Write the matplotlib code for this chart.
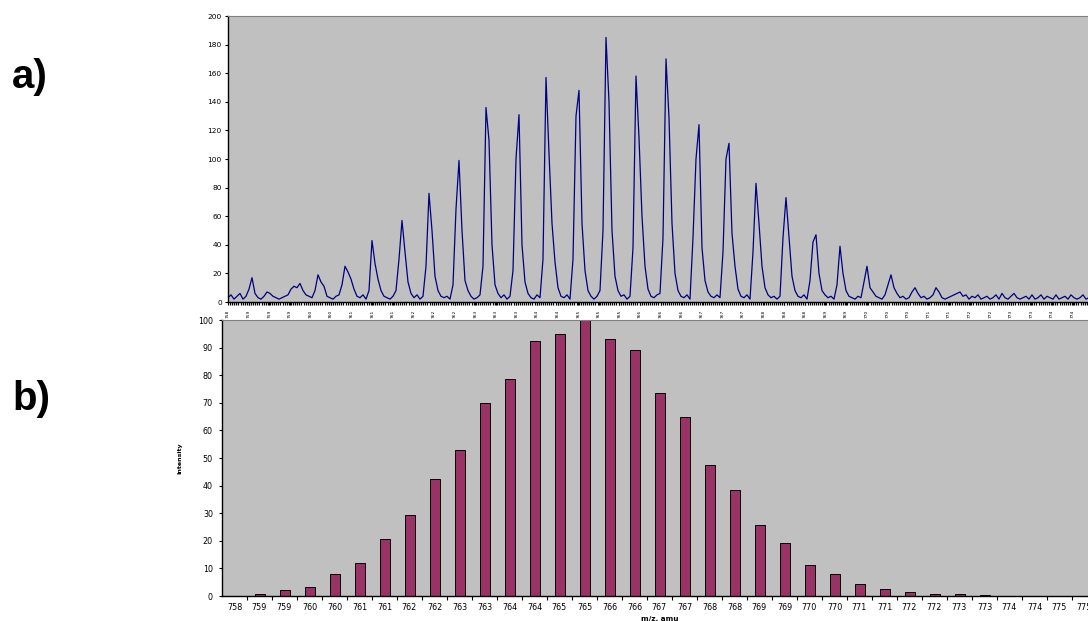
import numpy as np
import matplotlib
matplotlib.use('Agg')
import matplotlib.pyplot as plt
from matplotlib.ticker import FixedLocator, MultipleLocator

plt.rcParams['font.family'] = 'DejaVu Sans'

# a) measured spectrum, intensity per channel (read off the trace)
spectrum = [
    3, 5, 2, 4, 6, 2, 4, 9, 17, 6,
    3, 2, 4, 7, 6, 4, 3, 2, 3, 4,
    5, 9, 11, 10, 13, 8, 5, 4, 3, 8,
    19, 14, 11, 4, 3, 2, 4, 5, 12, 25,
    21, 16, 9, 4, 3, 5, 2, 8, 43, 27,
    16, 8, 4, 3, 2, 4, 8, 30, 57, 35,
    14, 6, 3, 5, 2, 4, 25, 76, 50, 18,
    8, 4, 3, 4, 2, 12, 65, 99, 50, 15,
    8, 4, 2, 3, 5, 25, 136, 113, 40, 12,
    6, 3, 5, 2, 4, 22, 100, 131, 40, 14,
    6, 3, 2, 5, 3, 30, 157, 104, 55, 28,
    10, 4, 3, 5, 2, 30, 130, 148, 55, 22,
    8, 4, 2, 4, 8, 50, 185, 140, 50, 18,
    8, 4, 5, 2, 4, 38, 158, 115, 60, 25,
    9, 4, 3, 5, 6, 45, 170, 129, 55, 20,
    8, 4, 3, 5, 2, 45, 100, 124, 38, 15,
    7, 4, 3, 5, 3, 35, 100, 111, 48, 25,
    9, 4, 3, 5, 2, 35, 83, 55, 25, 10,
    5, 3, 4, 2, 4, 45, 73, 45, 18, 8,
    4, 3, 5, 2, 15, 42, 47, 20, 8, 5,
    3, 4, 2, 12, 39, 20, 8, 4, 3, 2,
    4, 3, 14, 25, 10, 7, 4, 3, 2, 5,
    12, 19, 10, 6, 3, 4, 2, 3, 7, 10,
    6, 3, 4, 2, 3, 5, 10, 7, 3, 2,
    3, 4, 5, 6, 7, 4, 5, 2, 4, 3,
    5, 2, 3, 4, 2, 3, 5, 2, 6, 3,
    2, 4, 6, 3, 2, 3, 4, 2, 5, 2,
    3, 5, 2, 4, 3, 2, 5, 2, 3, 4,
    2, 5, 3, 2, 3, 5, 2, 3, 4, 2,
]
spectrum_ticks = ['758', '759', '759', '759', '760', '760', '761', '761', '761',
                  '762', '762', '762', '763', '763', '763', '764', '764', '765',
                  '765', '765', '766', '766', '766', '767', '767', '767', '768',
                  '768', '768', '769', '769', '770', '770', '770', '771', '771',
                  '772', '772', '773', '773', '774', '774']
channels_per_tick = 6.867

# b) calculated isotope pattern
mz_labels = ['758', '759', '759', '760', '760', '761', '761', '762', '762', '763',
             '763', '764', '764', '765', '765', '766', '766', '767', '767', '768',
             '768', '769', '769', '770', '770', '771', '771', '772', '772', '773',
             '773', '774', '774', '775', '775']
intensity = [0, 0.7, 2.1, 3.3, 7.8, 11.9, 20.6, 29.3, 42.4, 52.9,
             69.9, 78.6, 92.4, 94.9, 100, 93.1, 89.1, 73.6, 64.9, 47.5,
             38.4, 25.7, 19.2, 11.2, 7.8, 4.4, 2.7, 1.35, 0.7, 0.6,
             0.25, 0, 0, 0, 0]

W, H = 1088, 621
fig = plt.figure(figsize=(W / 100, H / 100), dpi=100)
bg = '#c0c0c0'

# top panel (runs past the right edge like the source)
ax1 = fig.add_axes([228 / W, (H - 302) / H, 869 / W, 286 / H])
ax1.set_facecolor(bg)
ax1.plot(np.arange(len(spectrum)), spectrum, color='#000080', lw=0.9)
ax1.set_xlim(0, 289.67)
ax1.set_ylim(0, 200)
ax1.yaxis.set_major_locator(MultipleLocator(20))
ax1.tick_params(axis='y', labelsize=5.3, length=2.5, width=0.8, pad=2, colors='black')
tick_pos = [i * channels_per_tick for i in range(len(spectrum_ticks))]
ax1.xaxis.set_major_locator(FixedLocator(tick_pos))
ax1.set_xticklabels(spectrum_ticks, rotation=90, fontsize=3.2, va='top')
ax1.xaxis.set_minor_locator(MultipleLocator(0.7))
ax1.tick_params(axis='x', which='major', length=2, width=0.8, pad=3.5)
ax1.tick_params(axis='x', which='minor', length=2, width=0.9)

# bottom panel
ax2 = fig.add_axes([222 / W, (H - 596) / H, 875 / W, 276 / H])
ax2.set_facecolor(bg)
pos = np.arange(len(intensity))
ax2.bar(pos, intensity, width=0.4, color='#993366', edgecolor='black', lw=0.7)
ax2.set_xlim(-0.5, len(intensity) - 0.5)
ax2.set_ylim(0, 100)
ax2.yaxis.set_major_locator(MultipleLocator(10))
ax2.tick_params(axis='y', labelsize=5.8, length=2.5, width=0.8, pad=4)
ax2.set_xticks(pos + 0.5)
ax2.set_xticklabels([])
ax2.set_xticks(pos, minor=True)
ax2.set_xticklabels(mz_labels, minor=True, fontsize=5.8)
ax2.tick_params(axis='x', which='major', length=3, width=0.8)
ax2.tick_params(axis='x', which='minor', length=0, pad=5)
ax2.set_xlabel('m/z, amu', fontsize=5.2, fontweight='bold', labelpad=3)
ax2.set_ylabel('Intensity', fontsize=4.5, fontweight='bold', labelpad=11)

for ax in (ax1, ax2):
    ax.spines['top'].set_color('#808080')
    ax.spines['right'].set_visible(False)
    ax.spines['left'].set_linewidth(1.0)
    ax.spines['bottom'].set_linewidth(1.0)

fig.text(12 / W, (H - 88) / H, 'a)', fontsize=29, fontweight='bold',
         family='Liberation Sans', va='baseline')
fig.text(12 / W, (H - 410) / H, 'b)', fontsize=29, fontweight='bold',
         family='Liberation Sans', va='baseline')

fig.savefig('out.png', dpi=100)
